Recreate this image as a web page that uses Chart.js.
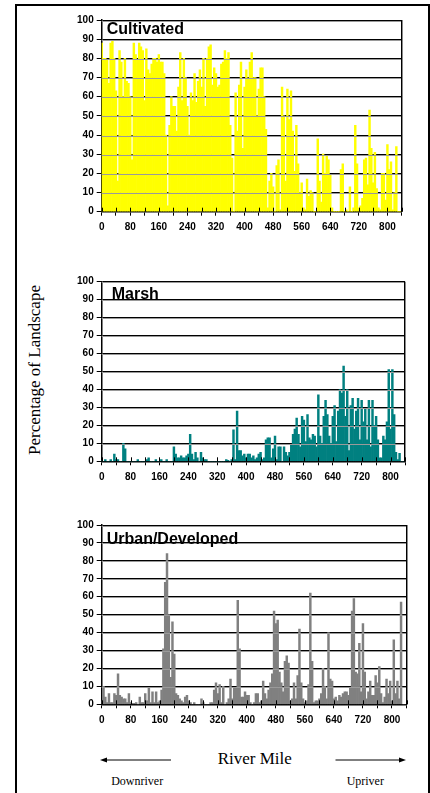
<!DOCTYPE html>
<html><head><meta charset="utf-8">
<script src="https://cdn.jsdelivr.net/npm/chart.js@4/dist/chart.umd.min.js"></script>
<style>
html,body{margin:0;padding:0;background:#fff;}
body{width:430px;height:793px;position:relative;overflow:hidden;}
#frame{position:absolute;left:15px;top:4px;width:411px;height:800px;border:2px solid #000;border-bottom:none;}
canvas{position:absolute;left:0;}
svg{position:absolute;left:0;top:0;}
</style></head><body>
<div id="frame"></div>
<svg width="430" height="793" font-family="'Liberation Serif','Times New Roman',serif" fill="#000">
<text transform="translate(40,370) rotate(-90)" text-anchor="middle" font-size="17">Percentage of Landscape</text>
<text x="254.7" y="764" text-anchor="middle" font-size="17">River Mile</text>
<text x="137.2" y="785" text-anchor="middle" font-size="12">Downriver</text>
<text x="365.3" y="785" text-anchor="middle" font-size="12">Upriver</text>
<line x1="104" y1="760" x2="171" y2="760" stroke="#000" stroke-width="1"/>
<polygon points="100,760 107,757.5 107,762.5"/>
<line x1="335.5" y1="760" x2="402" y2="760" stroke="#000" stroke-width="1"/>
<polygon points="406,760 399,757.5 399,762.5"/>
</svg>
<canvas id="c1" width="430" height="240" style="top:0px"></canvas>
<canvas id="c2" width="430" height="240" style="top:260px"></canvas>
<canvas id="c3" width="430" height="240" style="top:505px"></canvas>
<script>
// River mile (start of each 5-mile segment)
const miles = [
0,5,10,15,20,25,30,35,40,45,
50,55,60,65,70,75,80,85,90,95,
100,105,110,115,120,125,130,135,140,145,
150,155,160,165,170,175,180,185,190,195,
200,205,210,215,220,225,230,235,240,245,
250,255,260,265,270,275,280,285,290,295,
300,305,310,315,320,325,330,335,340,345,
350,355,360,365,370,375,380,385,390,395,
400,405,410,415,420,425,430,435,440,445,
450,455,460,465,470,475,480,485,490,495,
500,505,510,515,520,525,530,535,540,545,
550,555,560,565,570,575,580,585,590,595,
600,605,610,615,620,625,630,635,640,645,
650,655,660,665,670,675,680,685,690,695,
700,705,710,715,720,725,730,735,740,745,
750,755,760,765,770,775,780,785,790,795,
800,805,810,815,820,825,830,835];

const cultivated = [
88,80,80,79,67,88,89,80,63,16,
84,78,60,80,68,67,60,27,88,82,
79,88,86,84,58,85,74,72,77,80,
80,78,82,78,78,72,40,3,45,60,
55,55,42,65,83,58,80,70,55,40,
62,58,72,57,68,74,65,80,55,80,
86,87,66,75,72,65,66,77,78,84,
80,83,45,28,0,62,42,66,78,33,
65,74,69,78,83,70,70,50,64,75,
75,60,43,2,16,20,13,0,24,27,
1,65,50,16,64,48,63,42,21,45,
25,10,15,2,1,17,8,11,10,0,
0,38,16,5,30,20,29,27,19,2,
0,0,0,0,22,25,0,1,0,13,
0,2,45,25,2,3,7,27,28,14,
53,33,15,31,12,2,1,20,20,6,
35,22,26,1,10,34,0,0];

const marsh = [
0.5,0,1,0,0,1,0,4,1,1,
0,0,10,7,0,0,0,0,0,0,
1,0,0,0,0,1,2,0,0,0,
1,0,0,1,0,0,1,0,0,0,
8,4,2,2,3,2,2,3,4,15,
4,1,5,2,0,5,2,1,1,0,
0,0,0,0,0,0,0,0,0,1,
0.5,0,1,17.5,1,28,6,6,3,4,
2,4,4,2,3,1,2,4,5,1,
2,12,13,13,2,7,14,1,8,8,
0,8,5,3,5,9,15,18,24,15,
8,25,23,11,26,13,12,15,14,8,
37,14,10,25,34,26,14,10,25,31,
11,28,40,38,53,25,40,6,31,35,
18,28,35,12,34,22,29,12,34,8,
34,20,25,12,2,2,14,12,22,51,
18,51,26,5,1,4.5,0,0];

const urban = [
2,10,4,1,6,1,1,6,5,17,
5,4,3,3,1,6,1,0.5,0.5,1,
0,4,1,1,6,2,9,1,7,1,
7,1,2,8,31,68,84,50,15,46,
28,6,5,3,2,1,4,5,2,1,
0,1,0,0,0,3,1,0,0,0,
1,1,8,12,6,11,1,10,0,1,
3,14,3,9,9,58,31,4,4,7,
5,5,1,0,1,6,6,1,2,13,
6,3,8,12,17,52,45,47,18,12,
7,24,27,23,2,3,12,3,16,42,
12,3,1,2,11,62,24,1,2,2,
3,6,20,10,3,40,14,13,3,4,
2,5,4,6,7,7,5,9,52,59,
18,17,34,7,45,18,3,7,13,5,
5,16,12,21,6,1,4,14,6,13,
2,36,6,13,3,57,0,0];

const xLabelMiles = [0,80,160,240,320,400,480,560,640,720,800];
const yTickValues = [0,10,20,30,40,50,60,70,80,90,100];

const decor = {
  id:'panelDecor',
  afterDraw(chart, args, opts){
    const {ctx, chartArea:a, scales:{x,y}} = chart;
    ctx.save();
    ctx.lineWidth = 1;
    ctx.strokeStyle = '#9a9a9a';
    y.ticks.forEach(t=>{
      if (t.value <= 0) return;
      const py = Math.floor(y.getPixelForValue(t.value)) + 1.5;
      ctx.beginPath(); ctx.moveTo(a.left, py); ctx.lineTo(a.right, py); ctx.stroke();
    });
    ctx.strokeStyle = '#000';
    ctx.beginPath(); ctx.moveTo(Math.round(a.right)-0.5, a.top); ctx.lineTo(Math.round(a.right)-0.5, a.bottom); ctx.stroke();
    ctx.strokeStyle = '#8a8a8a';
    ctx.beginPath(); ctx.moveTo(Math.round(a.right)+0.5, a.top); ctx.lineTo(Math.round(a.right)+0.5, a.bottom); ctx.stroke();
    ctx.strokeStyle = '#000';
    x.ticks.forEach(t=>{
      const px = Math.round(x.getPixelForValue(t.value)) + 0.5;
      ctx.beginPath(); ctx.moveTo(px, a.bottom-4); ctx.lineTo(px, a.bottom); ctx.stroke();
    });
    ctx.font = 'bold 16px "Liberation Sans", Arial, sans-serif';
    ctx.fillStyle = '#000';
    ctx.textBaseline = 'alphabetic';
    ctx.textAlign = 'left';
    ctx.fillText(opts.title, a.left + opts.dx, a.top + opts.dy);
    ctx.restore();
  }
};

const tickFont = {family:'"Liberation Sans", Arial, sans-serif', size:10, weight:'bold'};

function panel(id, values, color, p){
  return new Chart(document.getElementById(id), {
    type:'bar',
    data:{datasets:[{
      data: miles.map((m,i)=>({x:m, y:values[i]})),
      backgroundColor: color, borderWidth:0,
      barPercentage:1, categoryPercentage:1, grouped:false
    }]},
    options:{
      responsive:false, animation:false, devicePixelRatio:1,
      layout:{padding:{left:0, top:p.padTop, right:p.padRight, bottom:p.padBottom}},
      plugins:{legend:{display:false}, tooltip:{enabled:false}, title:{display:false},
        panelDecor:{title:p.title, dx:p.dx, dy:p.dy}},
      scales:{
        x:{type:'linear', min:0, max:840, offset:false, z:1,
          grid:{display:true, offset:false, drawOnChartArea:false, tickLength:4, color:'#000', lineWidth:1},
          border:{display:true, color:'#000', width:1.5},
          ticks:{stepSize:40, autoSkip:false, maxRotation:0, minRotation:0, padding:6, color:'#000', font:tickFont,
            callback:(v)=> xLabelMiles.includes(v) ? String(v) : ''},
          afterFit:(s)=>{ s.height = 28; }
        },
        y:{min:0, max:100, z:1,
          grid:{color:'#000', lineWidth:1, tickLength:5},
          border:{display:true, color:'#000', width:1.5},
          ticks:{stepSize:10, padding:3, color:'#000', font:tickFont,
            callback:(v)=> yTickValues.includes(v) ? String(v) : ''},
          afterFit:(s)=>{ s.width = 101.7; }
        }
      }
    },
    plugins:[decor]
  });
}

panel('c1', cultivated, '#FFFF00', {padTop:20, padRight:28.3, padBottom:0.3, title:'Cultivated', dx:5, dy:14.3});
panel('c2', marsh, '#008080', {padTop:21.7, padRight:25, padBottom:10.7, title:'Marsh', dx:10, dy:17.3});
panel('c3', urban, '#808080', {padTop:20, padRight:23.5, padBottom:12.7, title:'Urban/Developed', dx:5, dy:18.7});
</script>
</body></html>
